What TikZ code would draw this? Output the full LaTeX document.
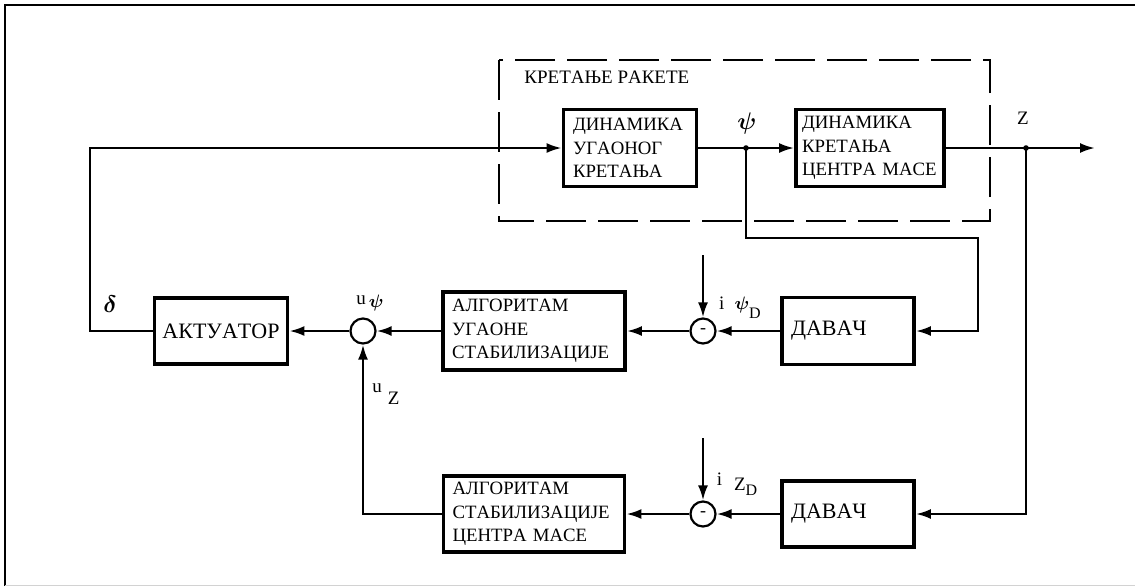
\documentclass[tikz,border=0pt]{standalone}
\usepackage{fontspec}
\setmainfont{Liberation Serif}[Kerning=Off]
\usepackage{amsmath}
\usetikzlibrary{arrows.meta, positioning, calc}

\begin{document}
\begin{tikzpicture}[x=0.5pt, y=-0.5pt,
    blok/.style={draw, line width=1.9pt, align=left, inner xsep=4pt, font=\fontsize{9.4}{11.7}\selectfont},
    veliki/.style={draw, line width=1.9pt, align=left, inner xsep=4pt, font=\fontsize{11}{13}\selectfont},
    zbir/.style={circle, draw, line width=1.1pt, minimum size=12.5pt, inner sep=0pt, font=\small},
    arrow/.style={-{Latex[length=7.5pt,width=5pt]}, line width=1.2pt},
    linija/.style={line width=1.1pt},
    oznaka/.style={font=\fontsize{9.5}{11}\selectfont, inner sep=0pt}
]
\useasboundingbox (0,0) rectangle (1135,586);

% Outer frame
\draw[line width=1.1pt] (5,586) -- (5,5) -- (1135,5);
\draw[gray!35] (5,585) -- (1135,585);

% Rocket motion (dashed)
\draw[linija, dash pattern=on 20pt off 6pt] (499,60) rectangle (990,221);
\node[oznaka, anchor=west] (naslov) at (524,77) {КРЕТАЊЕ РАКЕТЕ};

% Blocks
\node[blok, minimum width=66.5pt, minimum height=38.5pt, text width=57pt] (dinug) at (630,148) {ДИНАМИКА\\УГАОНОГ\\КРЕТАЊА};
\node[blok, minimum width=74pt, minimum height=38.5pt, text width=68pt, inner xsep=2pt] (dincm) at (870,148) {ДИНАМИКА\\КРЕТАЊА\\ЦЕНТРА МАСЕ};
\node[veliki, minimum width=64.5pt, minimum height=33pt, align=center] (aktuator) at (221,331) {АКТУАТОР};
\node[blok, minimum width=91pt, minimum height=39pt, text width=82pt] (algug) at (534,331) {АЛГОРИТАМ\\УГАОНЕ\\СТАБИЛИЗАЦИЈЕ};
\node[blok, minimum width=90.5pt, minimum height=38pt, text width=81.5pt] (algcm) at (534,514) {АЛГОРИТАМ\\СТАБИЛИЗАЦИЈЕ\\ЦЕНТРА МАСЕ};
\node[veliki, minimum width=66pt, minimum height=33.5pt, text width=57pt] (davac1) at (848,331) {ДАВАЧ};
\node[veliki, minimum width=66pt, minimum height=33pt, text width=57pt] (davac2) at (848,514) {ДАВАЧ};

% Summing points
\node[zbir] (sum) at (363,331) {};
\node[zbir] (razl1) at (703,331) {-};
\node[zbir] (razl2) at (703,514) {-};

% Branch points and free ends
\coordinate (psi) at (746,148);
\coordinate (zt) at (1026,148);
\coordinate (izlaz) at (1095,148);
\coordinate (levo) at (90,148);
\coordinate (pov1) at (978,238);
\coordinate (ulaz1) at (703,255);
\coordinate (ulaz2) at (703,438);
\fill (psi) circle (2.8);
\fill (zt) circle (2.8);

% Forward path
\draw[arrow] (aktuator.west) -| (levo) -- (dinug.west);
\draw[arrow] (dinug.east) -- (dincm.west);
\draw[arrow] (dincm.east) -- (izlaz);

% Angular loop
\draw[arrow] (psi) |- (pov1) |- (davac1.east);
\draw[arrow] (davac1.west) -- (razl1.east);
\draw[arrow] (ulaz1) -- (razl1.north);
\draw[arrow] (razl1.west) -- (algug.east);
\draw[arrow] (algug.west) -- (sum.east);
\draw[arrow] (sum.west) -- (aktuator.east);

% Center of mass loop
\draw[arrow] (zt) |- (davac2.east);
\draw[arrow] (davac2.west) -- (razl2.east);
\draw[arrow] (ulaz2) -- (razl2.north);
\draw[arrow] (razl2.west) -- (algcm.east);
\draw[arrow] (algcm.west) -| (sum.south);

% Signal labels
\node[oznaka, font=\large] (lpsi) at (747,123) {$\boldsymbol{\psi}$};
\node[oznaka] (lz) at (1023,118) {Z};
\node[oznaka, font=\large] (ldelta) at (110,304) {$\boldsymbol{\delta}$};
\node[oznaka] (lupsi) at (370,303) {u\,\raisebox{-0.4ex}{$\boldsymbol{\psi}$}};
\node[oznaka] (lipsi) at (740,308) {i\hspace{5pt}$\boldsymbol{\psi}$\raisebox{-1ex}{\footnotesize D}};
\node[oznaka] (luz) at (386,394) {u\raisebox{-1.4ex}{\hspace{3pt}Z}};
\node[oznaka] (liz) at (737,484) {i\hspace{6pt}\raisebox{-0.6ex}{Z}\raisebox{-1.2ex}{\footnotesize D}};

\end{tikzpicture}
\end{document}
